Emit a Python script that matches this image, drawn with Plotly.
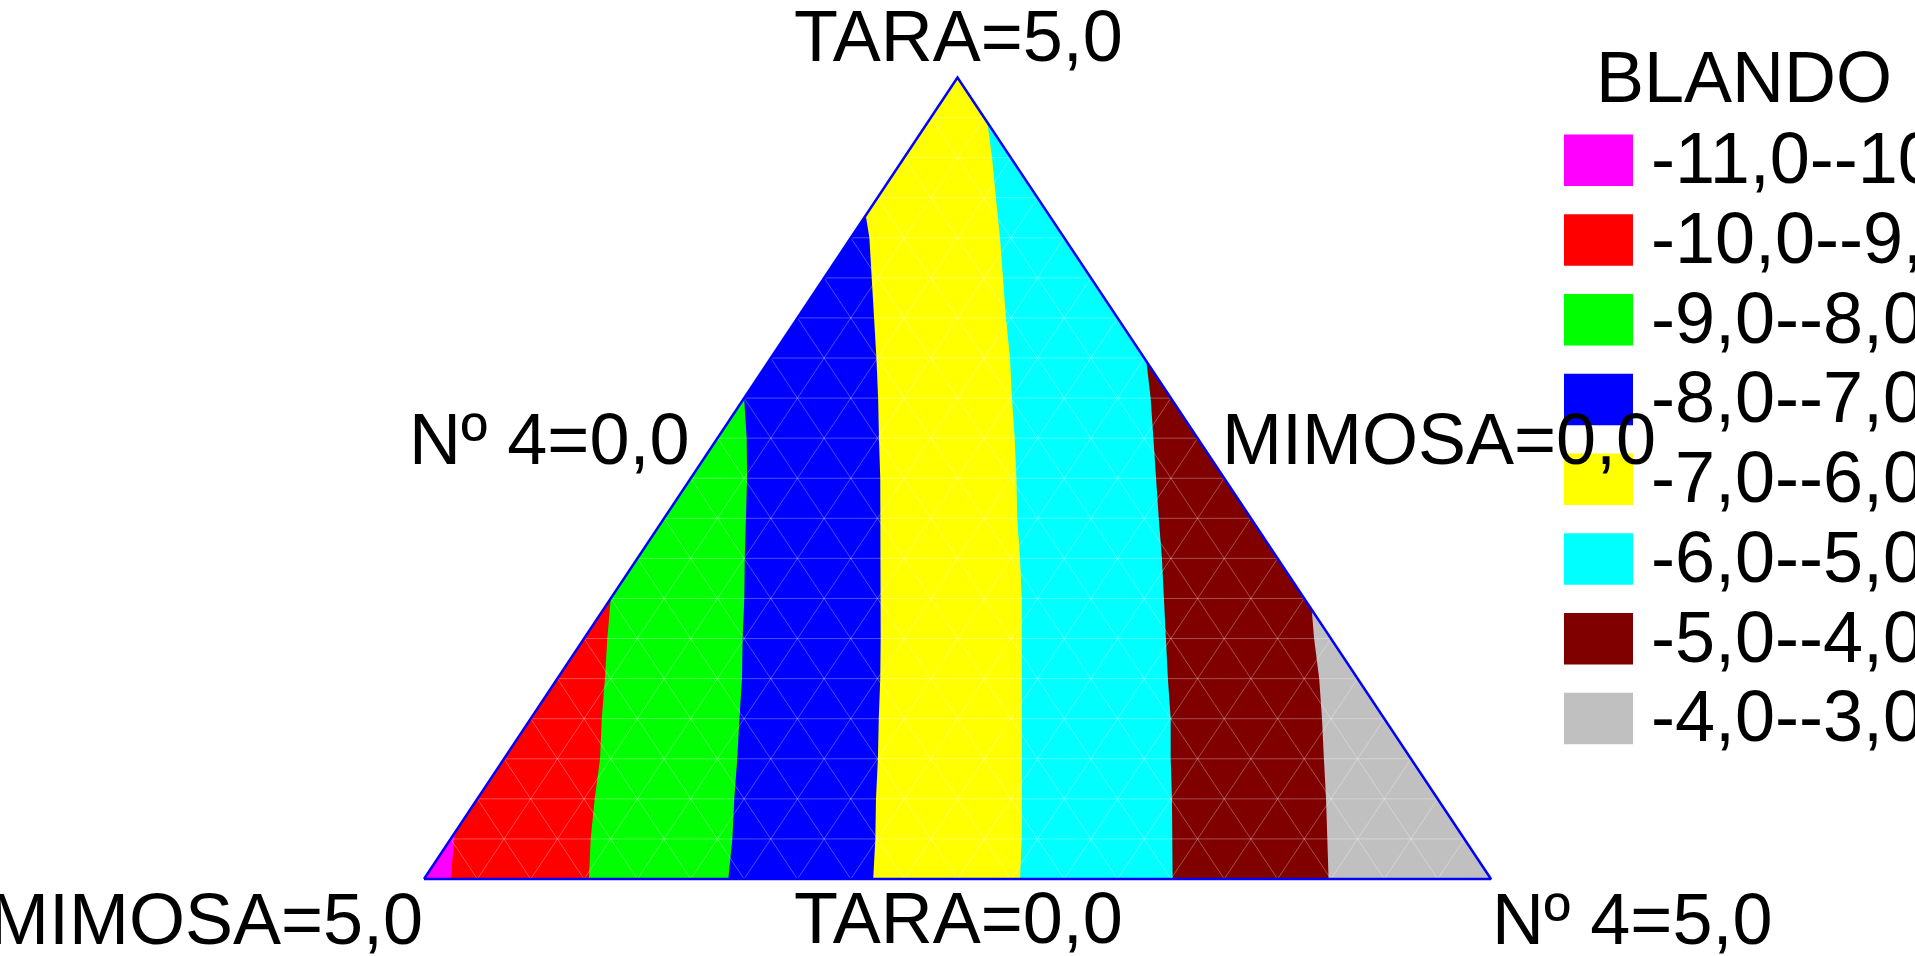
import plotly.graph_objects as go

# ---- Mixture design: TARA (top), MIMOSA (bottom-left), Nº 4 (bottom-right), total = 5,0 ----
TOTAL = 5.0

# Contour lines of BLANDO, each given as points (TARA, Nº 4); MIMOSA = 5 - TARA - Nº 4.
# Every line starts on the TARA=0 edge and ends on the Nº 4=0 or MIMOSA=0 edge.
LEVELS = [-10.0, -9.0, -8.0, -7.0, -6.0, -5.0, -4.0]

C10_TARA = [0.0, 0.25, 0.29]
C10_N4 = [0.125, 0.02, 0.0]

C9_TARA = [0.0, 0.25, 0.5, 0.75, 1.0, 1.25, 1.5, 1.75]
C9_N4 = [0.773, 0.656, 0.550, 0.450, 0.333, 0.223, 0.109, 0.0]

C8_TARA = [0.0, 0.25, 0.5, 0.75, 1.0, 1.25, 1.5, 1.75, 2.0, 2.25, 2.5, 2.75, 3.0]
C8_N4 = [1.426, 1.320, 1.204, 1.093, 0.978, 0.865, 0.743, 0.626, 0.503, 0.384,
         0.264, 0.137, 0.0]

C7_TARA = [0.0, 0.25, 0.5, 0.75, 1.0, 1.25, 1.5, 1.75, 2.0, 2.25, 2.5, 2.75, 3.0,
           3.25, 3.5, 3.75, 4.0, 4.14]
C7_N4 = [2.105, 1.990, 1.868, 1.752, 1.631, 1.513, 1.390, 1.265, 1.140, 1.013,
         0.888, 0.757, 0.628, 0.495, 0.359, 0.221, 0.087, 0.0]

C6_TARA = [0.0, 0.25, 0.5, 0.75, 1.0, 1.25, 1.5, 1.75, 2.0, 2.25, 2.5, 2.75, 3.0,
           3.25, 3.5, 3.75, 4.0, 4.25, 4.5, 4.72]
C6_N4 = [2.793, 2.676, 2.552, 2.427, 2.302, 2.177, 2.052, 1.926, 1.793, 1.655,
         1.526, 1.393, 1.255, 1.121, 0.977, 0.837, 0.699, 0.555, 0.412, 0.28]

C5_TARA = [0.0, 0.25, 0.5, 0.75, 1.0, 1.25, 1.5, 1.75, 2.0, 2.25, 2.5, 2.75, 3.0, 3.23]
C5_N4 = [3.508, 3.383, 3.255, 3.124, 2.999, 2.861, 2.727, 2.593, 2.458, 2.318,
         2.182, 2.043, 1.905, 1.77]

C4_TARA = [0.0, 0.25, 0.5, 0.75, 1.0, 1.25, 1.5, 1.68]
C4_N4 = [4.239, 4.108, 3.977, 3.842, 3.708, 3.570, 3.421, 3.32]

CONTOURS = {
    -10.0: (C10_TARA, C10_N4),
    -9.0: (C9_TARA, C9_N4),
    -8.0: (C8_TARA, C8_N4),
    -7.0: (C7_TARA, C7_N4),
    -6.0: (C6_TARA, C6_N4),
    -5.0: (C5_TARA, C5_N4),
    -4.0: (C4_TARA, C4_N4),
}

# Bands of the legend, low to high
BAND_EDGES = [-11.0, -10.0, -9.0, -8.0, -7.0, -6.0, -5.0, -4.0, -3.0]
BAND_COLORS = ["#FF00FF", "#FF0000", "#00FF00", "#0000FF",
               "#FFFF00", "#00FFFF", "#800000", "#C0C0C0"]

GRID_DIVISIONS = 20

# ---- page geometry ----
W, H = 1915, 956
TRI_LEFT, TRI_RIGHT, TRI_BASE, TRI_TOP = 424.0, 1491.0, 879.0, 77.5
sx = (TRI_RIGHT - TRI_LEFT) / TOTAL
sy = (TRI_BASE - TRI_TOP) / TOTAL
X_RANGE = [-TRI_LEFT / sx, TOTAL + (W - TRI_RIGHT) / sx]
Y_RANGE = [-(H - TRI_BASE) / sy, TOTAL + TRI_TOP / sy]

FONT = "Liberation Sans, Arial, Helvetica, sans-serif"
FS = 72


def to_xy(tara, n4):
    """Ternary (TARA, Nº 4) -> cartesian x, y of the drawing plane."""
    return n4 + tara / 2.0, tara


def pix_x(p):
    return (p - TRI_LEFT) / sx


def pix_y_center(baseline, size=FS):
    # annotation box centre sits ~0.3465 em above the text baseline
    return (TRI_BASE - (baseline - 0.3465 * size)) / sy


def fmt(v):
    return f"{v:.1f}".replace(".", ",")


BL = to_xy(0.0, 0.0)
BR = to_xy(0.0, TOTAL)
TOP = to_xy(TOTAL, 0.0)

fig = go.Figure()

# highest band covers the whole triangle first
fig.add_trace(go.Scatter(
    x=[BL[0], BR[0], TOP[0], BL[0]], y=[BL[1], BR[1], TOP[1], BL[1]],
    mode="lines", fill="toself", fillcolor=BAND_COLORS[-1],
    line=dict(width=0, color=BAND_COLORS[-1]), hoverinfo="skip", showlegend=False))

# each lower band paints the region below its upper contour line
for idx in range(len(LEVELS) - 1, -1, -1):
    level = LEVELS[idx]
    tara, n4 = CONTOURS[level]
    xs, ys = [], []
    for a, c in zip(tara, n4):
        x, y = to_xy(a, c)
        xs.append(x)
        ys.append(y)
    if n4[-1] > 0:  # line ends on MIMOSA=0 edge: go round through the top vertex
        xs.append(TOP[0])
        ys.append(TOP[1])
    xs += [BL[0], xs[0]]
    ys += [BL[1], ys[0]]
    fig.add_trace(go.Scatter(
        x=xs, y=ys, mode="lines", fill="toself", fillcolor=BAND_COLORS[idx],
        line=dict(width=0, color=BAND_COLORS[idx]), hoverinfo="skip",
        showlegend=False))

# triangular mesh
step = TOTAL / GRID_DIVISIONS
mx, my = [], []
for k in range(1, GRID_DIVISIONS):
    v = k * step
    # constant TARA
    for p, q in ((to_xy(v, 0.0), to_xy(v, TOTAL - v)),
                 # constant MIMOSA
                 (to_xy(0.0, TOTAL - v), to_xy(TOTAL - v, 0.0)),
                 # constant Nº 4
                 (to_xy(0.0, v), to_xy(TOTAL - v, v))):
        mx += [p[0], q[0], None]
        my += [p[1], q[1], None]
fig.add_trace(go.Scatter(
    x=mx, y=my, mode="lines", line=dict(width=1, color="rgba(255,255,255,0.3)"),
    hoverinfo="skip", showlegend=False))

# triangle outline
fig.add_trace(go.Scatter(
    x=[BL[0], BR[0], TOP[0], BL[0]], y=[BL[1], BR[1], TOP[1], BL[1]],
    mode="lines", line=dict(width=2.5, color="#0000FF"),
    hoverinfo="skip", showlegend=False))

# vertex / edge labels
labels = [
    ("TARA=5,0", 958.5, 61, "center"),
    ("TARA=0,0", 958.5, 943, "center"),
    ("MIMOSA=5,0", 425, 943.5, "right"),
    ("Nº 4=5,0", 1490, 943.5, "left"),
    ("Nº 4=0,0", 691, 463.5, "right"),
    ("MIMOSA=0,0", 1220, 463.5, "left"),
]
annotations = []
for text, xp, base, anchor in labels:
    annotations.append(dict(
        text=text, x=pix_x(xp), y=pix_y_center(base), xref="x", yref="y",
        xanchor=anchor, yanchor="middle", showarrow=False,
        font=dict(family=FONT, size=FS, color="black")))

# legend
annotations.append(dict(
    text="BLANDO", x=pix_x(1593.5), y=pix_y_center(101.5), xref="x", yref="y",
    xanchor="left", yanchor="middle", showarrow=False,
    font=dict(family=FONT, size=FS, color="black")))

shapes = []
SW_X0, SW_X1, SW_TOP0, SW_H, SW_STEP = 1564.0, 1633.0, 134.5, 51.5, 79.75
for i in range(len(BAND_COLORS)):
    top = SW_TOP0 + i * SW_STEP
    shapes.append(dict(
        type="rect", xref="paper", yref="paper",
        x0=SW_X0 / W, x1=SW_X1 / W, y0=1 - (top + SW_H) / H, y1=1 - top / H,
        fillcolor=BAND_COLORS[i], line=dict(width=0), layer="above"))
    label = f"{fmt(BAND_EDGES[i])}-{fmt(BAND_EDGES[i + 1])}"
    annotations.append(dict(
        text=label, x=pix_x(1648.5), y=pix_y_center(top + SW_H - 3),
        xref="x", yref="y", xanchor="left", yanchor="middle", showarrow=False,
        font=dict(family=FONT, size=FS, color="black")))

fig.update_layout(
    width=W, height=H, margin=dict(l=0, r=0, t=0, b=0, pad=0),
    paper_bgcolor="white", plot_bgcolor="white",
    xaxis=dict(range=X_RANGE, visible=False, fixedrange=True),
    yaxis=dict(range=Y_RANGE, visible=False, fixedrange=True),
    annotations=annotations, shapes=shapes, showlegend=False,
)

fig.write_html("out.html")
